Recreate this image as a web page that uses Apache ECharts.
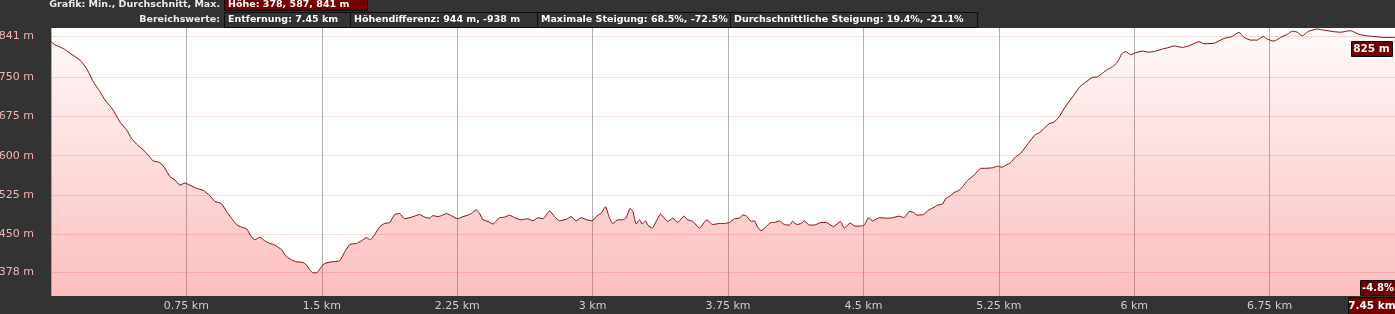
<!DOCTYPE html>
<html><head><meta charset="utf-8">
<script src="https://cdn.jsdelivr.net/npm/echarts@6/dist/echarts.min.js"></script>
<style>html,body{margin:0;padding:0;background:#333;}#c{width:1395px;height:314px;}</style>
</head><body><div id="c"></div>
<script>
// distance along the route (km)
const distKm = [
 0,0.022,0.068,0.105,0.160,0.197,0.234,0.271,0.299,0.336,0.354,0.382,0.419,0.446,0.474,0.511,0.539,0.566,0.603,0.631,0.659,0.686,0.714,0.742,0.769,0.806,0.843,0.880,0.908,0.944,0.972,1.000,1.028,1.055,1.083,1.111,1.129,1.157,1.184,1.212,1.240,
 1.277,1.304,1.332,1.360,1.396,1.415,1.433,1.452,1.476,1.498,1.516,1.553,1.599,1.627,1.655,1.692,1.719,1.747,1.769,1.793,1.821,1.848,1.876,1.904,1.931,1.959,1.996,2.042,2.070,2.097,2.116,2.144,2.162,2.190,2.217,2.251,2.282,2.310,2.328,2.356,2.374,2.393,2.420,2.448,
 2.485,2.512,2.540,2.568,2.605,2.642,2.669,2.697,2.725,2.762,2.789,2.817,2.854,2.881,2.909,2.937,2.968,2.998,3.029,3.047,3.071,3.094,3.112,3.140,3.167,3.186,3.208,3.223,3.241,3.260,3.274,3.293,3.306,3.330,3.352,3.376,3.398,3.416,3.444,3.472,3.505,3.527,3.555,3.592,3.632,3.665,3.702,
 3.730,3.758,3.785,3.813,3.831,3.850,3.878,3.896,3.911,3.933,3.961,3.988,4.007,4.034,4.062,4.090,4.108,4.132,4.154,4.173,4.200,4.228,4.265,4.293,4.335,4.372,4.394,4.427,4.453,4.486,4.505,4.529,4.551,4.588,4.634,4.662,4.698,4.726,4.754,4.778,4.796,4.833,4.859,4.892,4.911,4.938,4.957,
 4.975,5.003,5.030,5.049,5.077,5.113,5.150,5.178,5.215,5.243,5.267,5.289,5.316,5.344,5.372,5.399,5.427,5.455,5.473,5.501,5.529,5.556,5.584,5.612,5.639,5.667,5.698,5.731,5.768,5.796,5.824,5.851,5.879,5.907,5.931,5.953,5.981,6.008,6.045,6.082,6.119,6.156,6.193,
 6.220,6.266,6.303,6.359,6.386,6.442,6.497,6.543,6.580,6.608,6.645,6.681,6.715,6.737,6.774,6.811,6.848,6.875,6.903,6.931,6.967,7.014,7.050,7.106,7.143,7.198,7.244,7.290,7.327,7.383,7.429,7.45
];
// elevation (m)
const elevM = [
 817,811,804,795,782,766,741,722,706,691,681,664,649,633,622,611,601,590,587,576,560,554,544,548,544,538,534,524,513,509,494,481,469,464,461,445,440,445,438,433,430,
 421,408,402,398,397,392,383,377,378,389,395,398,400,417,431,433,438,444,440,450,465,471,473,488,490,480,483,488,483,481,486,484,486,490,486,480,484,487,490,497,490,478,475,470,
 482,483,487,482,478,480,476,482,480,495,484,476,479,484,476,482,478,476,487,490,503,481,471,478,478,482,500,494,470,478,470,476,468,462,475,489,481,475,481,473,485,478,475,462,478,469,471,
 471,473,480,481,487,486,475,476,466,457,465,473,473,476,469,468,475,469,471,476,468,468,473,473,465,475,462,472,466,466,468,482,476,482,481,482,485,482,494,492,487,488,496,502,506,508,519,
 522,530,534,541,553,563,576,576,577,580,578,582,587,598,605,617,630,641,643,652,661,664,674,690,703,716,731,740,749,750,757,764,769,778,794,798,792,796,799,797,799,803,806,
 809,806,809,817,813,814,823,827,835,825,820,820,827,822,818,825,831,837,835,828,837,841,839,836,835,838,831,828,827,825,825,825
];
// y-axis gridline positions and their printed labels
const yTickValues = [378, 450, 525, 600, 675, 750, 828];
const yTickLabels = ['378 m', '450 m', '525 m', '600 m', '675 m', '750 m', '841 m'];
const xStep = 0.75;
const xMaxKm = 7.45;
const endDistLabel = '7.45 km';
const endElevLabel = '825 m';
const endGradeLabel = '-4.8%';
const headerCaption1 = 'Grafik: Min., Durchschnitt, Max.';
const headerValue1 = 'Höhe: 378, 587, 841 m';
const headerCaption2 = 'Bereichswerte:';
const headerValues2 = ['Entfernung: 7.45 km', 'Höhendifferenz: 944 m, -938 m', 'Maximale Steigung: 68.5%, -72.5%', 'Durchschnittliche Steigung: 19.4%, -21.1%'];

const HDR_FONT = "bold 9.5px 'DejaVu Sans'";
const boxX = [224, 350, 537, 730, 977];

function txt(x, y, s, align, fill, font) {
  return {type: 'text', x: x, y: y, z: 100, silent: true,
    style: {text: s, font: font || HDR_FONT, fill: fill || '#ececec', align: align, textAlign: align, verticalAlign: 'middle', textVerticalAlign: 'middle'}};
}
function box(x, y, w, h, fill) {
  return {type: 'rect', z: 99, silent: true, shape: {x: x + 0.5, y: y + 0.5, width: w, height: h},
    style: {fill: fill, stroke: '#0c0c0c', lineWidth: 1}};
}
const graphics = [];
graphics.push(txt(220, 4.5, headerCaption1, 'right'));
graphics.push(box(224, -2, 143, 12, '#760000'));
graphics.push(txt(228, 4.5, headerValue1, 'left', '#ffffff'));
graphics.push(txt(220, 20, headerCaption2, 'right'));
for (let i = 0; i < headerValues2.length; i++) {
  graphics.push(box(boxX[i], 12, boxX[i + 1] - boxX[i], 15, '#333333'));
  graphics.push(txt(boxX[i] + 4, 20, headerValues2[i], 'left', '#ffffff'));
}
graphics.push(box(1351, 41, 41, 15, '#700000'));
graphics.push(txt(1371.5, 49, endElevLabel, 'center', '#ffffff', "bold 10.5px 'DejaVu Sans'"));
graphics.push(box(1360, 280, 35, 15, '#700000'));
graphics.push(txt(1378, 288, endGradeLabel, 'center', '#ffffff', "bold 10px 'DejaVu Sans'"));
graphics.push(box(1348, 297, 47, 17, '#700000'));
graphics.push(txt(1372, 306, endDistLabel, 'center', '#ffffff', "bold 10.5px 'DejaVu Sans'"));

const chart = echarts.init(document.getElementById('c'), null, {renderer: 'canvas'});
chart.setOption({
  backgroundColor: '#333333',
  animation: false,
  grid: {left: 51, top: 28, width: 1345, height: 268, show: true, backgroundColor: '#ffffff', borderWidth: 0, containLabel: false, outerBoundsMode: 'none'},
  xAxis: {
    type: 'value', min: 0, max: xMaxKm, interval: xStep,
    axisLine: {show: false}, axisTick: {show: false},
    splitLine: {show: true, lineStyle: {color: '#b0b0b0', width: 1}},
    axisLabel: {
      color: '#cfcfcf', fontSize: 11, fontFamily: 'DejaVu Sans', margin: 5,
      showMinLabel: false, showMaxLabel: false,
      formatter: function (v) {
        if (v === 0 || Math.abs(v - xMaxKm) < 1e-6) return '';
        return (+v.toFixed(2)) + ' km';
      }
    }
  },
  yAxis: {
    type: 'value', min: 333, max: 843,
    axisLine: {show: false},
    axisTick: {show: false, customValues: yTickValues},
    splitLine: {show: true, lineStyle: {color: 'rgba(240,130,130,0.3)', width: 1}},
    axisLabel: {
      customValues: yTickValues,
      color: '#f2b3b3', fontSize: 11, fontFamily: 'DejaVu Sans', margin: 17,
      formatter: function (v) {
        const i = yTickValues.indexOf(v);
        return i >= 0 ? yTickLabels[i] : '';
      }
    }
  },
  series: [{
    type: 'line', silent: true, showSymbol: false, smooth: 0.15,
    data: distKm.map(function (d, i) { return [d, elevM[i]]; }),
    lineStyle: {color: '#8a0c0c', width: 1},
    areaStyle: {color: new echarts.graphic.LinearGradient(0, 0, 0, 1, [
      {offset: 0, color: 'rgba(245,70,70,0.04)'},
      {offset: 1, color: 'rgba(245,70,70,0.5)'}
    ])}
  }],
  graphic: graphics
});
</script></body></html>
